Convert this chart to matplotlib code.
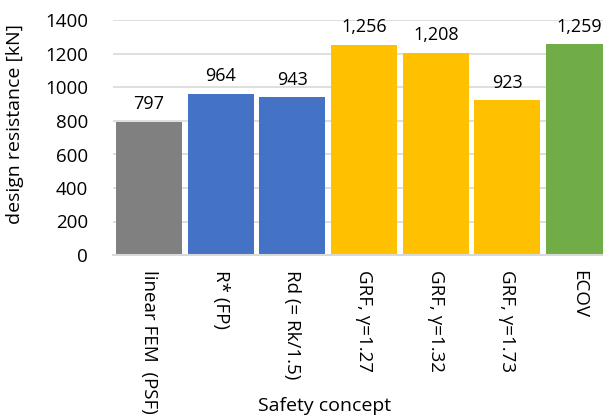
import matplotlib.pyplot as plt

plt.rcParams['font.family'] = ['Open Sans', 'DejaVu Sans']

concepts = ['linear FEM  (PSF)', 'R* (FP)', 'Rd (= Rk/1.5)', 'GRF, γ=1.27',
            'GRF, γ=1.32', 'GRF, γ=1.73', 'ECOV']
resistance = [797, 964, 943, 1256, 1208, 923, 1259]
bar_colors = ['#808080', '#4472C4', '#4472C4', '#FFC000', '#FFC000', '#FFC000', '#70AD47']

fig = plt.figure(figsize=(6.03, 4.16), dpi=100)
ax = fig.add_axes([113 / 603, 161 / 416, 502 / 603, 234.5 / 416])

x = range(len(concepts))
bars = ax.bar(x, resistance, width=0.92, color=bar_colors, zorder=2)
labels = ax.bar_label(bars, labels=[f'{v:,}' for v in resistance], padding=6, fontsize=13)
for t in labels:
    t.set_clip_on(False)

ax.set_xlim(-0.5, 6.5)
ax.set_ylim(0, 1400)
ax.set_yticks(range(0, 1401, 200))
ax.grid(axis='y', color='#D9D9D9', linewidth=1.2, zorder=0)
ax.set_xticks(list(x))
ax.set_xticklabels(concepts, rotation=270, va='top', ha='center', fontsize=13.5)
ax.tick_params(axis='both', length=0, labelsize=13.5)
ax.tick_params(axis='x', pad=11)
ax.tick_params(axis='y', pad=18)
for s in ['top', 'right', 'left']:
    ax.spines[s].set_visible(False)
ax.spines['bottom'].set_color('#D9D9D9')
ax.spines['bottom'].set_linewidth(1.5)

ax.set_ylabel('design resistance [kN]', fontsize=14)
ax.yaxis.set_label_coords(-0.178, 0.56)
fig.text(325 / 603, 19 / 416, 'Safety concept', ha='center', va='top', fontsize=14)

fig.savefig('out.png', dpi=100)
